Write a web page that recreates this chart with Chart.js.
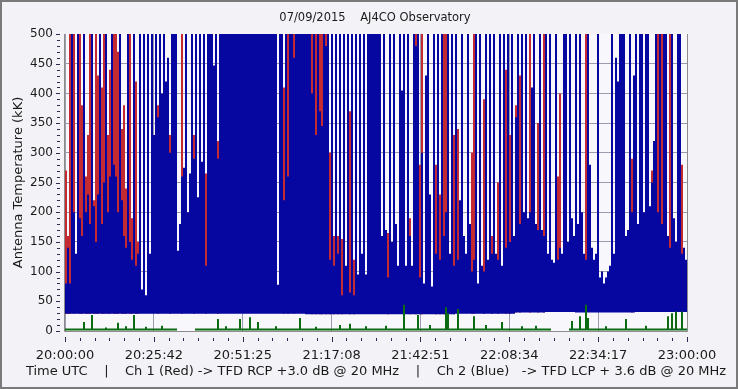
<!DOCTYPE html>
<html>
<head>
<meta charset="utf-8">
<title>AJ4CO Observatory 07/09/2015</title>
<script src="https://cdn.jsdelivr.net/npm/chart.js@4.4.0/dist/chart.umd.min.js"></script>
<style>
  html, body { margin: 0; padding: 0; background: #f3f3f7; }
  #wrap { width: 738px; height: 389px; }
</style>
</head>
<body>
<div id="wrap"><canvas id="spectro"></canvas></div>
<script>
var titleText = '07/09/2015    AJ4CO Observatory';
var yTitle = 'Antenna Temperature (kK)';
var caption = 'Time UTC    |    Ch 1 (Red) -> TFD RCP +3.0 dB @ 20 MHz    |    Ch 2 (Blue)   -> TFD LCP + 3.6 dB @ 20 MHz';
var tickLabels = ['20:00:00', '20:25:42', '20:51:25', '21:17:08', '21:42:51', '22:08:34', '22:34:17', '23:00:00'];
var spanMinutes = 180;

// Ch 2 (blue) peak per time column, kK
var ch2Blue = [
    80,140,80,500,200,130,500,190,160,500,
    200,230,180,500,210,150,230,500,180,250,
    500,200,260,500,280,260,200,500,220,160,
    140,500,150,120,500,110,130,500,70,500,
    60,500,130,500,330,500,360,500,400,500,
    420,460,300,500,500,500,135,180,260,275,
    500,200,265,500,290,500,225,500,285,500,
    110,500,500,500,447,500,290,500,500,500,
    500,500,500,500,500,500,500,500,500,500,
    500,500,500,500,500,500,500,500,500,500,
    500,500,500,500,500,500,78,500,500,220,
    500,260,500,500,460,500,500,500,500,500,
    500,500,500,400,500,330,500,370,345,500,
    480,500,120,500,110,500,130,500,60,500,
    110,500,65,500,60,500,95,500,130,500,
    95,500,500,500,500,500,500,500,160,500,
    170,90,500,150,500,180,110,500,405,500,
    110,500,160,110,500,480,500,90,300,80,
    430,500,230,75,500,130,500,120,500,160,
    200,500,130,500,110,500,120,220,500,160,
    130,500,180,100,120,500,80,500,110,100,
    500,120,500,130,500,130,120,500,110,500,
    140,500,150,500,160,360,500,180,500,200,
    500,190,200,410,500,180,170,500,170,160,
    500,130,500,120,115,500,120,140,130,500,
    500,150,500,190,160,500,180,500,200,130,
    120,500,280,140,120,130,500,90,100,80,
    90,100,110,500,130,460,420,500,500,500,
    160,170,500,200,430,500,180,500,500,200,
    500,500,210,250,320,500,200,500,180,500,
    500,160,140,500,190,150,500,500,130,140,
    120
];

// Ch 1 (red) peak per time column where it shows above blue, kK
var ch1Red = [
    270,160,500,null,500,null,null,500,380,null,
    260,330,500,null,220,500,430,null,410,500,
    null,330,440,null,500,500,470,null,340,380,
    240,null,500,190,null,420,150,null,null,null,
    null,null,null,null,null,null,380,null,null,null,
    null,null,330,null,null,null,null,null,500,null,
    null,null,null,null,330,null,null,null,null,null,
    265,null,null,null,null,null,320,null,null,null,
    null,null,null,null,null,null,null,null,null,null,
    null,null,null,null,null,null,null,null,null,null,
    null,null,null,null,null,null,null,null,null,410,
    null,500,null,null,500,null,null,null,null,null,
    null,null,null,500,null,500,null,500,500,null,
    500,null,300,null,160,null,160,null,155,null,
    null,null,370,null,120,null,null,null,null,null,
    null,null,null,null,null,null,null,null,null,null,
    null,165,null,null,null,null,null,null,null,null,
    null,null,190,null,null,500,null,280,500,null,
    null,null,null,null,null,280,null,230,null,500,
    500,null,null,null,330,null,340,null,null,null,
    null,null,null,300,500,null,null,null,null,390,
    null,null,null,160,null,null,250,null,null,null,
    440,null,330,null,null,380,null,430,null,null,
    null,null,500,null,null,null,350,null,null,500,
    null,null,null,null,null,null,260,400,null,null,
    null,null,null,null,null,null,null,null,null,null,
    500,null,null,null,null,null,null,null,null,null,
    null,null,null,null,null,null,null,null,null,null,
    null,null,null,290,null,null,null,null,null,null,
    null,null,null,270,null,null,500,null,500,null,
    null,null,500,null,null,null,null,null,280,null,
    null
];

// noise floor of both channels, one value per 15 columns
var floorK = [29,29,29,29,29,29,29,29,28,28,28,28,28,29,29,31,32,31,31,32,32];

// green trace: baseline, spikes (column, kK) and dropouts
var greenBase = 4;
var greenSpikeCol = [9,13,20,26,30,34,40,48,76,80,87,92,96,105,117,125,137,142,150,160,169,176,182,190,191,196,204,210,218,228,235,253,257,260,261,270,280,290,301,303,305,308];
var greenSpikeVal = [15,27,6,14,8,27,7,9,20,8,20,23,15,8,22,7,10,12,8,9,44,27,10,40,30,37,25,10,15,8,9,17,25,44,22,8,20,9,25,30,33,33];
var greenGaps = [[56, 64], [243, 251]];

var nCols = ch2Blue.length;
var colMinutes = spanMinutes / nCols;

function colTime(i) {
    return (i + 0.5) * colMinutes;
}
function floorAt(i) {
    return floorK[Math.floor(i / 15)];
}

var blueData = [];
var redData = [];
var greenData = [];
for (var i = 0; i < nCols; i++) {
    blueData.push({x: colTime(i), y: [floorAt(i), ch2Blue[i]]});
    if (ch1Red[i] !== null) {
        redData.push({x: colTime(i), y: [floorAt(i), ch1Red[i]]});
    }
    var inGap = false;
    for (var g = 0; g < greenGaps.length; g++) {
        if (i >= greenGaps[g][0] && i <= greenGaps[g][1]) inGap = true;
    }
    if (!inGap) {
        var k = greenSpikeCol.indexOf(i);
        greenData.push({x: colTime(i), y: [0, k >= 0 ? greenSpikeVal[k] : greenBase]});
    }
}

var frame = {
    id: 'frame',
    beforeDraw: function (chart) {
        var ctx = chart.ctx, a = chart.chartArea;
        ctx.save();
        ctx.fillStyle = '#f3f3f7';
        ctx.fillRect(0, 0, chart.width, chart.height);
        ctx.fillStyle = '#f8f8fc';
        ctx.fillRect(a.left, a.top, a.right - a.left, a.bottom - a.top);
        ctx.restore();
    },
    afterDraw: function (chart) {
        var ctx = chart.ctx, a = chart.chartArea;
        var xs = chart.scales.x, ys = chart.scales.y;
        ctx.save();
        // plot border (left, bottom, right)
        ctx.strokeStyle = '#8c8c8c';
        ctx.lineWidth = 1;
        ctx.beginPath();
        ctx.moveTo(a.left - 0.5, a.top);
        ctx.lineTo(a.left - 0.5, a.bottom + 0.5);
        ctx.lineTo(a.right + 0.5, a.bottom + 0.5);
        ctx.lineTo(a.right + 0.5, a.top);
        ctx.stroke();
        // tick marks
        ctx.strokeStyle = '#2a2a50';
        ctx.beginPath();
        for (var v = 0; v <= 500; v += 10) {
            var py = Math.round(ys.getPixelForValue(v)) + 0.5;
            ctx.moveTo(v % 50 === 0 ? 56 : 57, py);
            ctx.lineTo(60, py);
        }
        for (var t = 0; t <= 42; t++) {
            var px = Math.round(xs.getPixelForValue(t * spanMinutes / 42)) + 0.5;
            ctx.moveTo(px, t % 6 === 0 ? 337 : 338);
            ctx.lineTo(px, t % 6 === 0 ? 342 : 341);
        }
        ctx.stroke();
        // title and bottom caption
        ctx.fillStyle = '#1a1a1a';
        ctx.textAlign = 'center';
        ctx.textBaseline = 'middle';
        ctx.font = '11.5px "DejaVu Sans"';
        ctx.fillText(titleText, 375, 18);
        ctx.font = '13px "DejaVu Sans"';
        ctx.fillText(caption, 376, 372);
        // outer frame
        ctx.strokeStyle = '#7a7a7a';
        ctx.lineWidth = 2;
        ctx.strokeRect(1, 1, chart.width - 2, chart.height - 2);
        ctx.restore();
    }
};

Chart.defaults.font.family = '"DejaVu Sans"';
Chart.defaults.font.size = 12;
Chart.defaults.color = '#1a1a1a';

new Chart(document.getElementById('spectro'), {
    type: 'bar',
    data: {
        datasets: [{
            label: 'Green',
            data: greenData,
            backgroundColor: '#0b6a12',
            order: 0
        }, {
            label: 'Ch 2 (Blue)',
            data: blueData,
            backgroundColor: '#0606a0',
            order: 1
        }, {
            label: 'Ch 1 (Red)',
            data: redData,
            backgroundColor: '#c42a32',
            order: 2
        }]
    },
    options: {
        responsive: true,
        maintainAspectRatio: false,
        animation: false,
        layout: {padding: {top: 34, right: 51, bottom: 0, left: 0}},
        datasets: {
            bar: {
                grouped: false,
                barThickness: 2,
                borderWidth: 0,
                inflateAmount: 0
            }
        },
        plugins: {
            legend: {display: false},
            tooltip: {enabled: false}
        },
        scales: {
            x: {
                type: 'linear',
                offset: false,
                min: 0,
                max: spanMinutes,
                afterFit: function (s) { s.height = 58; },
                afterBuildTicks: function (s) {
                    s.ticks = tickLabels.map(function (l, i) {
                        return {value: i * spanMinutes / (tickLabels.length - 1)};
                    });
                },
                ticks: {
                    autoSkip: false,
                    maxRotation: 0,
                    padding: 17,
                    font: {size: 13},
                    callback: function (val, idx) { return tickLabels[idx]; }
                },
                grid: {color: '#9c9cb0', drawTicks: false, offset: false},
                border: {display: false}
            },
            y: {
                min: 0,
                max: 500,
                afterFit: function (s) { s.width = 65; },
                ticks: {stepSize: 50, padding: 12},
                grid: {
                    drawTicks: false,
                    color: function (c) { return c.tick && c.tick.value === 500 ? 'rgba(0,0,0,0)' : '#9c9cb0'; }
                },
                border: {display: false},
                title: {display: true, text: yTitle, font: {size: 13}, padding: {top: 11, bottom: 0}}
            }
        }
    },
    plugins: [frame]
});
</script>
</body>
</html>
